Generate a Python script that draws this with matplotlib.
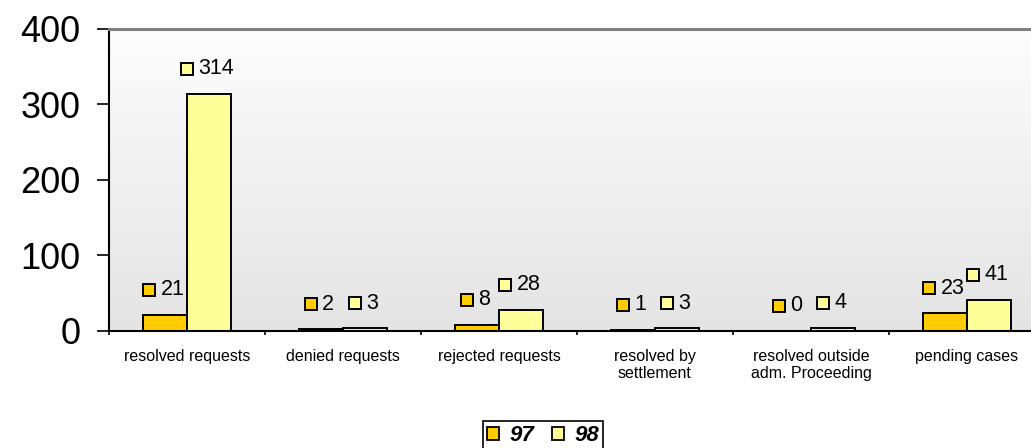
import numpy as np
import matplotlib
matplotlib.use("Agg")
import matplotlib.pyplot as plt
from matplotlib.colors import LinearSegmentedColormap
from matplotlib.offsetbox import AnnotationBbox, HPacker, DrawingArea, TextArea
from matplotlib.patches import Rectangle, Patch

plt.rcParams['font.family'] = ['Liberation Sans', 'DejaVu Sans']

categories = ["resolved requests", "denied requests", "rejected requests",
              "resolved by\nsettlement", "resolved outside\nadm. Proceeding",
              "pending cases"]
series_names = ["97", "98"]
values_97 = [21, 2, 8, 1, 0, 23]
values_98 = [314, 3, 28, 3, 4, 41]
y_ticks = [0, 100, 200, 300, 400]

col_97 = "#FFCC00"
col_98 = "#FFFF99"

fig = plt.figure(figsize=(10.31, 4.48), dpi=100)
# plot area runs a bit past the right edge of the picture
ax = fig.add_axes([109 / 1031, 1 - 330.7 / 448, 936 / 1031, 301.7 / 448])

# grey gradient background
cmap = LinearSegmentedColormap.from_list("bg", ["#E4E4E4", "#FDFDFD"])
ax.imshow(np.linspace(0, 1, 256)[:, None], extent=(0, 1, 0, 1), origin="lower",
          transform=ax.transAxes, aspect="auto", cmap=cmap, zorder=0)

x = np.arange(len(categories))
w = 0.282
ax.bar(x - w / 2, values_97, w, color=col_97, edgecolor="black", linewidth=1.4, zorder=2)
ax.bar(x + w / 2, values_98, w, color=col_98, edgecolor="black", linewidth=1.4, zorder=2)


def value_label(xpos, val, color):
    da = DrawingArea(8.6, 8.6, 0, 0)
    da.add_artist(Rectangle((0, 0), 8.6, 8.6, facecolor=color, edgecolor="black", linewidth=1.4))
    ta = TextArea(str(val), textprops=dict(fontsize=15.5, color="black"))
    pack = HPacker(children=[da, ta], sep=4, align="center", pad=0)
    ab = AnnotationBbox(pack, (xpos, val), xybox=(-1, 18), xycoords="data",
                        boxcoords="offset points", frameon=False, box_alignment=(0.5, 0.5),
                        zorder=3)
    ax.add_artist(ab)


for xi, v in zip(x, values_97):
    value_label(xi - w / 2, v, col_97)
for xi, v in zip(x, values_98):
    value_label(xi + w / 2, v, col_98)

ax.set_xlim(-0.5, len(categories) - 0.5)
ax.set_ylim(0, 400)
ax.set_yticks(y_ticks)
ax.set_yticklabels([str(t) for t in y_ticks], fontsize=26)
ax.tick_params(axis="y", direction="out", length=8.6, width=1.2, pad=12, colors="black")

ax.set_xticks(np.arange(len(categories) + 1) - 0.5)
ax.set_xticklabels([])
ax.tick_params(axis="x", which="major", direction="out", length=3, width=1.2)
ax.set_xticks(x, minor=True)
ax.set_xticklabels(categories, minor=True, fontsize=11.5)
ax.tick_params(axis="x", which="minor", length=0, pad=13)

ax.spines["left"].set_linewidth(1.5)
ax.spines["bottom"].set_linewidth(1.5)
ax.spines["top"].set_color("#808080")
ax.spines["top"].set_linewidth(2.2)
ax.spines["right"].set_visible(False)

handles = [Patch(facecolor=col_97, edgecolor="black", linewidth=1.3),
           Patch(facecolor=col_98, edgecolor="black", linewidth=1.3)]
leg = fig.legend(handles, series_names, loc="upper center", ncol=2,
                 bbox_to_anchor=(543 / 1031, 1 - 421 / 448), bbox_transform=fig.transFigure,
                 borderaxespad=0, fancybox=False, framealpha=1, edgecolor="black",
                 handlelength=0.55, handleheight=0.55, handletextpad=0.45,
                 columnspacing=0.8, borderpad=0.2,
                 prop=dict(size=16, weight="bold", style="italic"))
leg.get_frame().set_linewidth(1.2)

fig.savefig("out.png", dpi=100)
